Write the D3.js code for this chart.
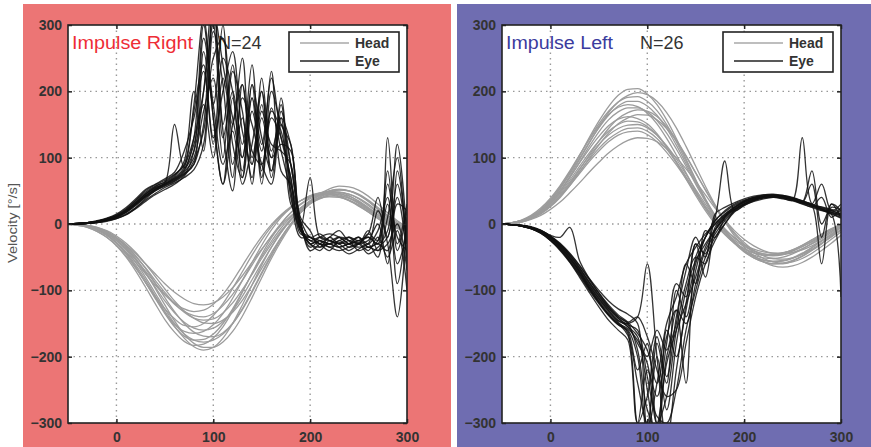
<!DOCTYPE html>
<html>
<head>
<meta charset="utf-8">
<script src="https://cdn.jsdelivr.net/npm/d3@7"></script>
<style>
  body { margin: 0; background: #fff; }
  svg { display: block; font-family: "Liberation Sans", Arial, sans-serif; }
</style>
</head>
<body>
<div id="chart"></div>
<script>
// sample times of the traces (ms)
var times = [-50, -40, -30, -20, -10, 0, 10, 20, 30, 40, 50, 60, 70, 80, 90, 100, 110, 120,
    130, 140, 150, 160, 170, 180, 190, 200, 210, 220, 230, 240, 250, 260, 270, 280, 290, 300];

var xTicks = [-50, 0, 100, 200, 300];
var yTicks = [-300, -200, -100, 0, 100, 200, 300];

// Impulse Right: head traces (deg/s)
var rightHead = [
    [0,-1,-3,-8,-16,-28,-43,-62,-84,-108,-132,-154,-172,-185,-190,-186,-172,-150,-122,-92,-62,-35,-12,7,23,35,44,50,52,50,44,34,22,10,0,-7],
    [0,-1,-4,-9,-17,-28,-42,-58,-75,-92,-107,-119,-128,-132,-130,-121,-106,-86,-63,-40,-19,-1,14,26,35,41,44,44,41,35,27,18,9,1,-5,-9],
    [0,-1,-3,-8,-17,-29,-45,-65,-88,-112,-135,-155,-169,-175,-174,-166,-150,-128,-102,-75,-49,-26,-6,10,24,35,43,47,48,45,38,28,17,6,-2,-8],
    [0,0,-2,-5,-10,-18,-29,-43,-60,-79,-98,-116,-131,-142,-149,-150,-145,-133,-115,-92,-67,-43,-20,0,17,30,39,44,45,42,35,25,14,4,-4,-9],
    [0,-2,-5,-11,-20,-33,-50,-71,-95,-120,-144,-163,-177,-183,-181,-172,-155,-131,-103,-74,-46,-21,0,17,30,40,47,49,48,43,34,23,11,1,-6,-10],
    [0,-1,-3,-7,-14,-24,-37,-54,-74,-95,-116,-134,-148,-157,-160,-157,-147,-131,-109,-84,-59,-35,-13,5,20,32,41,46,47,45,39,30,19,8,-1,-7],
    [0,-1,-3,-8,-15,-25,-38,-54,-71,-89,-106,-121,-132,-138,-140,-135,-123,-106,-85,-62,-39,-18,1,17,29,38,44,46,44,39,31,21,11,2,-5,-9],
    [0,0,-2,-5,-11,-20,-32,-48,-67,-89,-111,-132,-150,-163,-169,-170,-164,-150,-129,-103,-75,-48,-23,0,19,34,44,50,52,50,44,35,23,11,1,-6],
    [0,-2,-5,-11,-20,-32,-48,-67,-88,-109,-128,-143,-153,-155,-150,-138,-120,-97,-72,-47,-24,-4,12,25,35,42,45,45,42,36,28,18,8,-1,-7,-10],
    [0,0,-2,-6,-12,-22,-35,-52,-73,-97,-122,-146,-166,-180,-186,-186,-178,-162,-139,-111,-81,-52,-26,-3,17,33,45,53,57,56,51,42,30,17,5,-4],
    [0,-1,-3,-7,-13,-22,-34,-49,-66,-85,-103,-120,-133,-142,-145,-143,-134,-119,-99,-76,-52,-30,-10,7,21,31,38,42,42,39,33,24,14,5,-2,-7],
    [0,-1,-4,-9,-17,-29,-45,-65,-88,-111,-133,-151,-162,-165,-162,-152,-135,-112,-85,-58,-32,-9,10,24,35,43,47,48,46,40,32,22,11,2,-5,-9],
    [0,-1,-3,-7,-14,-25,-39,-58,-80,-104,-128,-150,-166,-175,-178,-175,-166,-150,-128,-101,-73,-46,-21,0,17,31,41,48,51,50,45,36,25,13,3,-5],
    [0,-1,-3,-7,-13,-21,-32,-45,-60,-75,-90,-103,-113,-120,-122,-119,-110,-96,-78,-58,-38,-19,-2,12,24,33,39,41,40,36,29,20,11,3,-4,-8]
];

// Impulse Right: eye traces (deg/s)
var rightEye = [
    [0,0,1,3,6,10,18,30,42,52,60,68,80,130,300,160,60,190,70,210,80,170,140,60,-5,-25,-20,-25,-30,-20,-25,-15,40,-20,60,-30],
    [0,1,2,4,8,13,22,35,48,57,63,72,95,200,110,330,140,50,210,100,180,70,150,90,0,-30,-25,-35,-28,-30,-20,-35,-25,80,-40,20],
    [0,0,1,2,5,9,15,25,38,50,58,65,75,90,260,180,300,90,160,60,220,110,160,120,10,-10,-35,-20,-30,-25,-30,-10,-40,10,100,-60],
    [0,1,2,5,9,15,25,38,52,60,68,78,110,160,230,120,250,200,80,190,60,175,110,50,-10,-20,-30,-40,-25,-35,-30,-25,0,-60,30,20],
    [0,0,1,2,5,8,14,24,36,46,55,62,70,82,120,290,210,70,190,150,90,60,170,90,5,-40,-30,-20,-10,-25,-20,-30,-10,40,-90,10],
    [0,1,2,4,7,12,20,32,45,55,62,150,85,110,200,350,150,240,100,190,120,220,130,70,-15,-20,-25,-30,-35,-30,-28,-40,-20,-50,-10,-100],
    [0,0,1,3,6,11,19,30,42,52,60,67,78,100,170,220,100,230,170,70,160,100,180,40,-5,70,-20,-25,-30,-40,-30,-20,-30,-10,120,-20],
    [0,1,2,4,7,12,21,33,46,56,64,74,90,180,310,160,60,150,210,90,200,100,120,110,-10,-30,-40,-25,-35,-45,-38,-30,-50,60,-20,-40],
    [0,0,1,2,4,8,14,23,34,44,52,60,72,95,140,250,280,120,70,170,110,230,80,60,0,-30,-20,-15,-20,-30,-35,-30,20,-30,-140,0],
    [0,1,2,4,8,14,23,36,50,59,66,75,88,130,200,300,130,200,120,240,70,160,130,70,-10,-25,-30,-35,-40,-35,-30,-45,-35,-20,40,-50],
    [0,0,1,3,6,10,17,28,40,50,57,64,74,110,280,180,90,140,60,120,200,80,160,30,5,-20,-15,-25,-20,-30,-25,-20,-30,130,-30,30],
    [0,1,2,4,7,11,19,31,43,53,61,69,82,120,180,100,220,150,250,110,90,200,150,120,0,-35,-25,-30,-20,-25,-40,-35,-40,-30,0,-70],
    [0,0,1,3,6,11,18,29,41,51,59,66,76,90,150,320,240,160,100,210,130,80,190,50,-20,-20,-30,-30,-25,-20,-30,-15,-25,30,-60,-10],
    [0,1,2,4,7,12,20,32,45,54,61,70,85,170,240,130,200,260,140,90,170,120,110,90,-5,-30,-35,-30,-35,-30,-25,-35,-30,-40,80,-30]
];

// Impulse Left: head traces (deg/s)
var leftHead = [
    [0,2,5,11,21,35,54,77,103,130,155,177,194,203,204,196,180,157,129,98,67,37,11,-11,-29,-42,-51,-57,-60,-60,-56,-49,-40,-30,-19,-9],
    [0,1,4,9,17,28,42,58,76,94,110,124,134,139,140,135,124,108,89,68,46,26,8,-8,-21,-31,-38,-42,-44,-43,-40,-34,-27,-19,-11,-4],
    [0,2,6,13,24,39,58,80,104,127,148,165,176,180,177,167,151,129,104,77,50,25,3,-15,-29,-40,-47,-51,-52,-50,-45,-38,-29,-20,-11,-3],
    [0,1,3,8,15,26,40,58,78,99,119,137,151,160,165,164,157,144,125,102,77,52,28,6,-13,-28,-40,-48,-52,-53,-51,-46,-38,-29,-19,-9],
    [0,2,5,12,22,37,56,78,103,128,151,170,184,191,192,185,171,150,124,95,66,38,13,-9,-27,-41,-51,-57,-60,-59,-55,-48,-39,-29,-19,-9],
    [0,1,4,10,19,31,47,66,87,107,125,140,150,155,154,147,134,116,94,70,46,23,3,-14,-27,-37,-43,-47,-48,-46,-41,-34,-26,-17,-9,-2],
    [0,1,3,8,16,27,42,61,82,104,125,144,159,168,172,170,162,147,127,103,77,51,26,4,-15,-31,-43,-52,-57,-59,-57,-52,-44,-34,-23,-12],
    [0,1,4,9,18,30,45,63,83,102,120,134,144,149,150,145,134,118,98,75,52,30,10,-7,-21,-32,-40,-45,-47,-46,-43,-37,-30,-22,-13,-5],
    [0,1,4,10,19,32,50,72,97,122,146,168,184,194,198,195,185,168,145,117,87,57,29,4,-18,-35,-48,-57,-63,-65,-63,-58,-50,-40,-29,-17],
    [0,2,5,11,20,33,50,70,92,113,132,148,158,162,159,151,136,116,93,68,43,20,0,-16,-29,-38,-44,-47,-47,-44,-39,-32,-24,-15,-7,0],
    [0,2,5,11,21,35,53,75,99,123,145,164,178,185,185,178,164,144,119,91,63,36,12,-9,-26,-40,-49,-55,-57,-56,-52,-45,-36,-26,-16,-6],
    [0,1,3,7,13,22,33,47,62,78,93,107,118,126,130,129,124,114,100,83,64,44,24,6,-10,-23,-33,-40,-44,-45,-43,-39,-33,-25,-17,-9],
    [0,1,4,10,19,32,49,70,93,117,139,157,169,175,175,169,156,137,113,87,60,34,10,-10,-27,-40,-49,-54,-56,-55,-51,-44,-35,-25,-15,-5],
    [0,1,4,9,17,28,43,60,79,97,114,128,138,144,145,140,129,113,93,71,48,26,6,-11,-24,-34,-41,-45,-46,-44,-39,-32,-24,-16,-8,-1]
];

// Impulse Left: eye traces (deg/s)
var leftEye = [
    [0,-1,-3,-6,-12,-22,-35,-52,-72,-95,-115,-133,-148,-165,-300,-220,-260,-180,-90,-110,-30,-45,5,18,28,35,40,42,42,40,36,32,28,24,20,15],
    [0,-1,-2,-5,-10,-19,-31,-47,-66,-88,-108,-127,-142,-155,-170,-250,-330,-200,-150,-60,-90,-10,-20,10,25,33,38,40,41,39,36,130,30,26,22,18],
    [0,-1,-3,-7,-14,-25,-39,-57,-78,-100,-120,-138,-152,-160,-200,-320,-180,-240,-100,-140,-70,-20,0,15,25,34,40,44,45,43,39,34,28,-60,30,10],
    [0,-1,-2,-5,-11,-20,-33,-50,-70,-92,-112,-130,-145,-155,-180,-210,-300,-260,-160,-90,-50,-60,-5,12,22,30,36,39,40,38,35,30,25,20,15,-110],
    [0,-1,-3,-6,-12,-21,-34,-51,-71,-93,-113,-131,-146,-150,-140,-60,-200,-330,-220,-130,-60,-20,10,95,20,28,34,38,40,39,36,31,26,40,10,25],
    [0,-1,-2,-4,-9,-17,-20,-5,-55,-82,-104,-124,-140,-150,-190,-280,-310,-160,-200,-120,-30,-80,-10,8,22,32,38,42,44,43,40,35,29,23,18,13],
    [0,-1,-3,-7,-13,-24,-38,-56,-76,-98,-118,-136,-150,-168,-240,-300,-200,-280,-180,-100,-55,-30,-8,12,24,33,39,42,43,41,37,32,60,-20,30,20],
    [0,-1,-2,-5,-10,-18,-30,-45,-63,-84,-104,-122,-137,-148,-165,-190,-240,-170,-130,-150,-90,-40,-15,5,20,30,37,41,43,42,39,34,28,22,16,10],
    [0,-1,-3,-7,-14,-25,-40,-58,-80,-103,-125,-145,-160,-175,-300,-260,-170,-230,-140,-70,-20,-50,15,25,32,38,42,44,44,42,38,33,27,21,15,9],
    [0,-1,-2,-5,-11,-20,-32,-48,-68,-90,-110,-128,-142,-152,-160,-230,-290,-300,-250,-160,-100,-50,-20,0,18,28,35,40,42,42,39,35,30,25,20,15],
    [0,-1,-3,-6,-12,-22,-36,-53,-73,-96,-117,-136,-150,-158,-175,-200,-160,-190,-130,-240,-50,-20,5,20,30,36,40,42,43,41,38,33,80,0,25,20],
    [0,-1,-2,-5,-10,-18,-29,-44,-62,-82,-100,-116,-128,-136,-150,-310,-240,-150,-110,-60,-35,-15,0,14,26,34,39,42,43,41,37,32,27,22,17,12],
    [0,-1,-3,-7,-13,-23,-37,-55,-75,-97,-118,-137,-152,-162,-220,-180,-300,-210,-160,-120,-80,-35,-10,10,22,30,36,40,41,40,37,33,28,23,18,14],
    [0,-1,-2,-5,-10,-19,-31,-47,-66,-87,-107,-125,-139,-148,-140,-170,-220,-260,-250,-180,-110,-60,-25,0,20,30,36,40,42,41,38,34,30,60,20,30]
];

var svgWidth = 871;
var svgHeight = 447;

var svg = d3.select("#chart")
    .append("svg")
    .attr("width", svgWidth)
    .attr("height", svgHeight);

// coloured panel backgrounds
svg.append("rect")
    .attr("x", 23).attr("y", 4)
    .attr("width", 428).attr("height", 443)
    .attr("fill", "#ec7575");
svg.append("rect")
    .attr("x", 457).attr("y", 4)
    .attr("width", 414).attr("height", 443)
    .attr("fill", "#6f6db1");

// y axis title (only once, left of the first panel)
svg.append("text")
    .attr("transform", "translate(17, 223) rotate(-90)")
    .attr("text-anchor", "middle")
    .attr("font-size", 12)
    .attr("fill", "#555")
    .attr("textLength", 80)
    .attr("lengthAdjust", "spacingAndGlyphs")
    .text("Velocity [°/s]");

function drawPanel(opt) {
    var top = 25, bottom = 423;
    var x = d3.scaleLinear().domain([-50, 300]).range([opt.left, opt.right]);
    var y = d3.scaleLinear().domain([-300, 300]).range([bottom, top]);

    var g = svg.append("g");

    // white plot area
    g.append("rect")
        .attr("x", opt.left).attr("y", top)
        .attr("width", opt.right - opt.left).attr("height", bottom - top)
        .attr("fill", "#fff");

    // dotted grid
    g.selectAll(".vgrid")
        .data([0, 100, 200])
        .enter().append("line")
        .attr("x1", d => x(d)).attr("x2", d => x(d))
        .attr("y1", top).attr("y2", bottom)
        .attr("stroke", "#999").attr("stroke-width", 1.4)
        .attr("stroke-dasharray", "1.5,4");
    g.selectAll(".hgrid")
        .data([-200, -100, 0, 100, 200])
        .enter().append("line")
        .attr("x1", opt.left).attr("x2", opt.right)
        .attr("y1", d => y(d)).attr("y2", d => y(d))
        .attr("stroke", "#999").attr("stroke-width", 1.4)
        .attr("stroke-dasharray", "1.5,4");

    // title and count (traces run over them)
    g.append("text")
        .attr("x", opt.left + 4).attr("y", 49)
        .attr("font-size", 18)
        .attr("fill", opt.titleColor)
        .attr("textLength", opt.titleWidth)
        .attr("lengthAdjust", "spacingAndGlyphs")
        .text(opt.title);
    g.append("text")
        .attr("x", opt.nX).attr("y", 49)
        .attr("font-size", 18)
        .attr("fill", "#333")
        .text(opt.n);

    // clip traces to the plot box
    g.append("clipPath").attr("id", opt.id)
        .append("rect")
        .attr("x", opt.left).attr("y", top)
        .attr("width", opt.right - opt.left).attr("height", bottom - top);

    var traces = g.append("g").attr("clip-path", `url(#${opt.id})`);

    var headLine = d3.line()
        .defined(d => d[1] !== undefined)
        .x(d => x(d[0])).y(d => y(d[1]))
        .curve(d3.curveMonotoneX);
    var eyeLine = d3.line()
        .defined(d => d[1] !== undefined)
        .x(d => x(d[0])).y(d => y(d[1]))
        .curve(d3.curveCatmullRom.alpha(0.5));

    traces.selectAll(".head")
        .data(opt.head)
        .enter().append("path")
        .attr("d", vals => headLine(times.map((t, i) => [t, vals[i]])))
        .attr("fill", "none")
        .attr("stroke", "#9c9c9c")
        .attr("stroke-width", 1.3);

    traces.selectAll(".eye")
        .data(opt.eye)
        .enter().append("path")
        .attr("d", vals => eyeLine(times.map((t, i) => [t, vals[i]])))
        .attr("fill", "none")
        .attr("stroke", "#111")
        .attr("stroke-opacity", 0.85)
        .attr("stroke-width", 1.3);

    // axes with inward ticks on all four sides
    var tickStyle = function(sel) {
        sel.select(".domain").remove();
        sel.selectAll(".tick line").attr("stroke", "#222").attr("stroke-width", 1.5);
        sel.selectAll(".tick text")
            .attr("font-family", "'Liberation Sans', Arial, sans-serif")
            .attr("font-size", 14)
            .attr("font-weight", "bold")
            .attr("fill", "#333");
    };

    var xTickVals = xTicks.filter(d => d >= 0);
    g.append("g")
        .attr("transform", `translate(0, ${bottom})`)
        .call(d3.axisBottom(x).tickValues(xTickVals).tickSize(-4).tickPadding(9))
        .call(tickStyle);
    g.append("g")
        .attr("transform", `translate(0, ${top})`)
        .call(d3.axisTop(x).tickValues(xTickVals).tickSize(-4).tickFormat(""))
        .call(tickStyle);
    g.append("g")
        .attr("transform", `translate(${opt.left}, 0)`)
        .call(d3.axisLeft(y).tickValues(yTicks).tickSize(-4).tickPadding(6))
        .call(tickStyle);
    g.append("g")
        .attr("transform", `translate(${opt.right}, 0)`)
        .call(d3.axisRight(y).tickValues(yTicks).tickSize(-4).tickFormat(""))
        .call(tickStyle);

    // frame
    g.append("rect")
        .attr("x", opt.left).attr("y", top)
        .attr("width", opt.right - opt.left).attr("height", bottom - top)
        .attr("fill", "none")
        .attr("stroke", "#222")
        .attr("stroke-width", 1.6);

    // legend
    var lx = opt.right - 118, ly = 32;
    var legend = g.append("g").attr("transform", `translate(${lx}, ${ly})`);
    legend.append("rect")
        .attr("width", 110).attr("height", 40)
        .attr("fill", "#fff")
        .attr("stroke", "#222")
        .attr("stroke-width", 1.6);
    var items = [["Head", "#a8a8a8", 11], ["Eye", "#222", 29]];
    items.forEach(function(it) {
        legend.append("line")
            .attr("x1", 11).attr("x2", 60)
            .attr("y1", it[2]).attr("y2", it[2])
            .attr("stroke", it[1]).attr("stroke-width", 1.6);
        legend.append("text")
            .attr("x", 66).attr("y", it[2] + 5)
            .attr("font-size", 14)
            .attr("font-weight", "bold")
            .attr("fill", "#333")
            .text(it[0]);
    });
}

drawPanel({
    id: "clipRight", left: 68, right: 407,
    head: rightHead, eye: rightEye,
    title: "Impulse Right", titleColor: "#ee2d36", titleWidth: 121,
    n: "N=24", nX: 218
});

drawPanel({
    id: "clipLeft", left: 502, right: 841,
    head: leftHead, eye: leftEye,
    title: "Impulse Left", titleColor: "#3b3b9e", titleWidth: 107,
    n: "N=26", nX: 640
});
</script>
</body>
</html>
